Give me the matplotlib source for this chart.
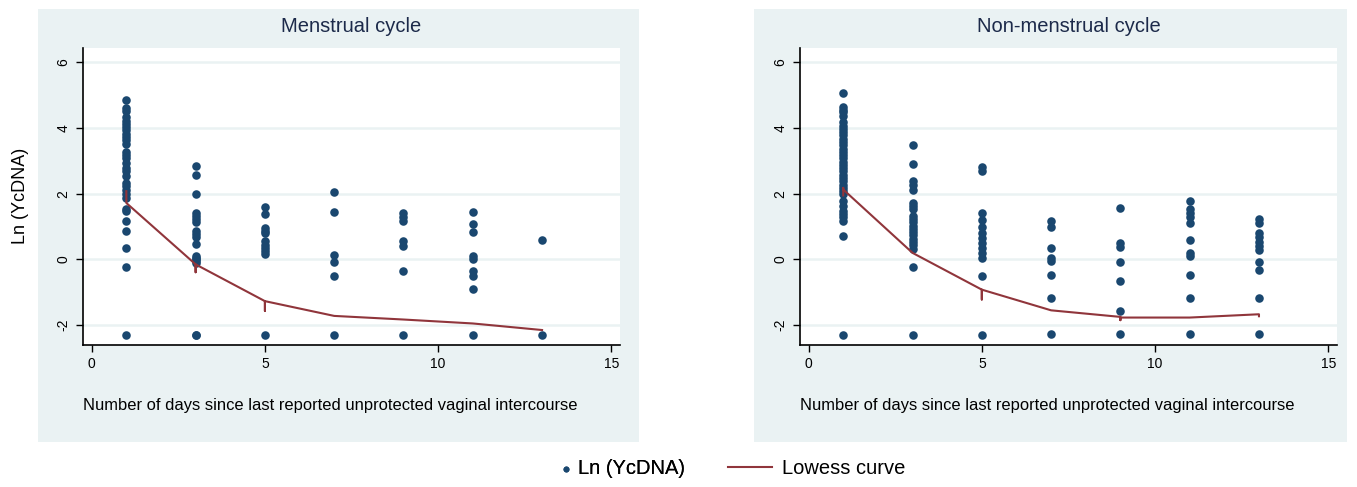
#Imports
import numpy as np
import matplotlib.pyplot as plt
import matplotlib.patches as mpatches

plt.rcParams['font.family'] = ['Liberation Sans', 'DejaVu Sans']

#data: days since intercourse and Ln (YcDNA) values, per panel
titles = ["Menstrual cycle", "Non-menstrual cycle"]

men_days = [1] * 31 + [3] * 18 + [5] * 11 + [7] * 6 + [9] * 7 + [11] * 9 + [13] * 2
men_vals = [4.85, 4.61, 4.51, 4.33, 4.23, 4.13, 4.03, 3.93, 3.83, 3.73, 3.63, 3.53,
            3.28, 3.18, 3.08, 2.93, 2.78, 2.68, 2.53, 2.33, 2.23, 2.13, 1.98, 1.88,
            1.55, 1.48, 1.18, 0.86, 0.35, -0.22, -2.3,
            2.86, 2.58, 1.98, 1.41, 1.33, 1.23, 1.13, 0.88, 0.78, 0.68, 0.48, 0.1, 0.02,
            -0.05, -0.1, 0.05, -2.3, -2.3,
            1.6, 1.37, 0.95, 0.87, 0.8, 0.55, 0.45, 0.35, 0.25, 0.17, -2.3,
            2.07, 1.45, 0.15, -0.08, -0.5, -2.3,
            1.43, 1.3, 1.17, 0.57, 0.4, -0.35, -2.3,
            1.45, 1.08, 0.85, 0.1, 0.0, -0.35, -0.5, -0.9, -2.3,
            0.6, -2.3]

non_days = [1] * 36 + [3] * 21 + [5] * 13 + [7] * 8 + [9] * 7 + [11] * 11 + [13] * 11
non_vals = [5.06, 4.63, 4.56, 4.48, 4.38, 4.18, 4.08, 3.98, 3.88, 3.78, 3.68, 3.58,
            3.48, 3.38, 3.28, 3.18, 3.08, 2.98, 2.88, 2.78, 2.68, 2.58, 2.48, 2.38,
            2.28, 2.18, 2.08, 1.98, 1.78, 1.63, 1.48, 1.38, 1.28, 1.18, 0.71, -2.3,
            3.48, 2.91, 2.38, 2.28, 2.13, 1.73, 1.63, 1.53, 1.33, 1.23, 1.13, 1.03,
            0.93, 0.83, 0.73, 0.63, 0.53, 0.43, 0.33, -0.22, -2.3,
            2.83, 2.68, 1.43, 1.2, 1.0, 0.8, 0.65, 0.5, 0.35, 0.2, 0.05, -0.5, -2.3,
            1.18, 0.98, 0.35, 0.05, -0.05, -0.48, -1.17, -2.27,
            1.58, 0.5, 0.38, -0.08, -0.67, -1.58, -2.27,
            1.78, 1.55, 1.4, 1.28, 1.1, 0.6, 0.2, 0.1, -0.48, -1.17, -2.27,
            1.22, 1.12, 0.82, 0.68, 0.52, 0.4, 0.28, -0.08, -0.33, -1.17, -2.27]

#lowess curves (repeated x values give the small vertical stubs seen in the original)
men_low_x = [1, 1, 3, 3, 3, 5, 5, 5, 7, 9, 11, 13]
men_low_y = [2.08, 1.72, -0.15, -0.39, -0.15, -1.27, -1.57, -1.27, -1.72, -1.83, -1.95, -2.15]
non_low_x = [1, 1, 1, 3, 5, 5, 5, 7, 9, 9, 9, 11, 13, 13]
non_low_y = [1.95, 2.18, 2.13, 0.2, -0.92, -1.22, -0.92, -1.55, -1.75, -1.85, -1.77, -1.77, -1.67, -1.73]

x_ticks = [0, 5, 10, 15]
y_ticks = [-2, 0, 2, 4, 6]

xlabel = "Number of days since last reported unprotected vaginal intercourse"
ylabel = "Ln (YcDNA)"

#colors (Stata s2color scheme)
bg_color = "#eaf2f3"
dot_color = "#1a476f"
line_color = "#90353b"
title_color = "#1c2a4a"

fig = plt.figure(figsize=(13.57, 4.87), dpi=100)

#panel backgrounds, kept behind the axes
fig.patches.append(mpatches.Rectangle((0.028, 0.092), 0.443, 0.889, transform=fig.transFigure,
                                      facecolor=bg_color, edgecolor="none", zorder=-10))
fig.patches.append(mpatches.Rectangle((0.5556, 0.092), 0.437, 0.889, transform=fig.transFigure,
                                      facecolor=bg_color, edgecolor="none", zorder=-10))

panels = [(men_days, men_vals, men_low_x, men_low_y, 0.0612),
          (non_days, non_vals, non_low_x, non_low_y, 0.5895)]

for i, (days, vals, lx, ly, left) in enumerate(panels):
    ax = fig.add_axes([left, 0.292, 0.3957, 0.61])
    ax.set_facecolor("white")
    dots = ax.scatter(days, vals, s=38, color=dot_color, zorder=3, linewidths=0, label=ylabel)
    curve, = ax.plot(lx, ly, color=line_color, lw=1.5, zorder=4, label="Lowess curve")

    ax.set_xlim(-0.25, 15.25)
    ax.set_ylim(-2.6, 6.45)
    ax.set_xticks(x_ticks)
    ax.set_yticks(y_ticks)
    ax.set_yticklabels([str(t) for t in y_ticks], rotation=90, va="center")
    ax.tick_params(axis="both", labelsize=10, length=5, width=1, color="black", pad=4)
    ax.grid(axis="y", color=bg_color, lw=1.8, zorder=1)
    ax.set_axisbelow(True)

    for side in ["top", "right"]:
        ax.spines[side].set_visible(False)
    for side in ["left", "bottom"]:
        ax.spines[side].set_linewidth(1.2)

    ax.set_title(titles[i], fontsize=14.5, color=title_color, pad=11)
    ax.text(0.0, -0.205, xlabel, transform=ax.transAxes, fontsize=11.9, ha="left", va="center")
    if i == 0:
        ax.set_ylabel(ylabel, fontsize=13, labelpad=20)
        dot_handle, line_handle = dots, curve

#legend below both panels (two parts so each handle gets its own length)
leg1 = fig.legend([dot_handle], [ylabel], loc="center", bbox_to_anchor=(0.459, 0.038), frameon=False,
                  fontsize=14.5, handlelength=0.5, handletextpad=0.35, markerscale=0.7)
fig.legend([line_handle], ["Lowess curve"], loc="center", bbox_to_anchor=(0.602, 0.038), frameon=False,
           fontsize=14.5, handlelength=2.2, handletextpad=0.5)
fig.add_artist(leg1)

plt.savefig("out.png", dpi=100)
